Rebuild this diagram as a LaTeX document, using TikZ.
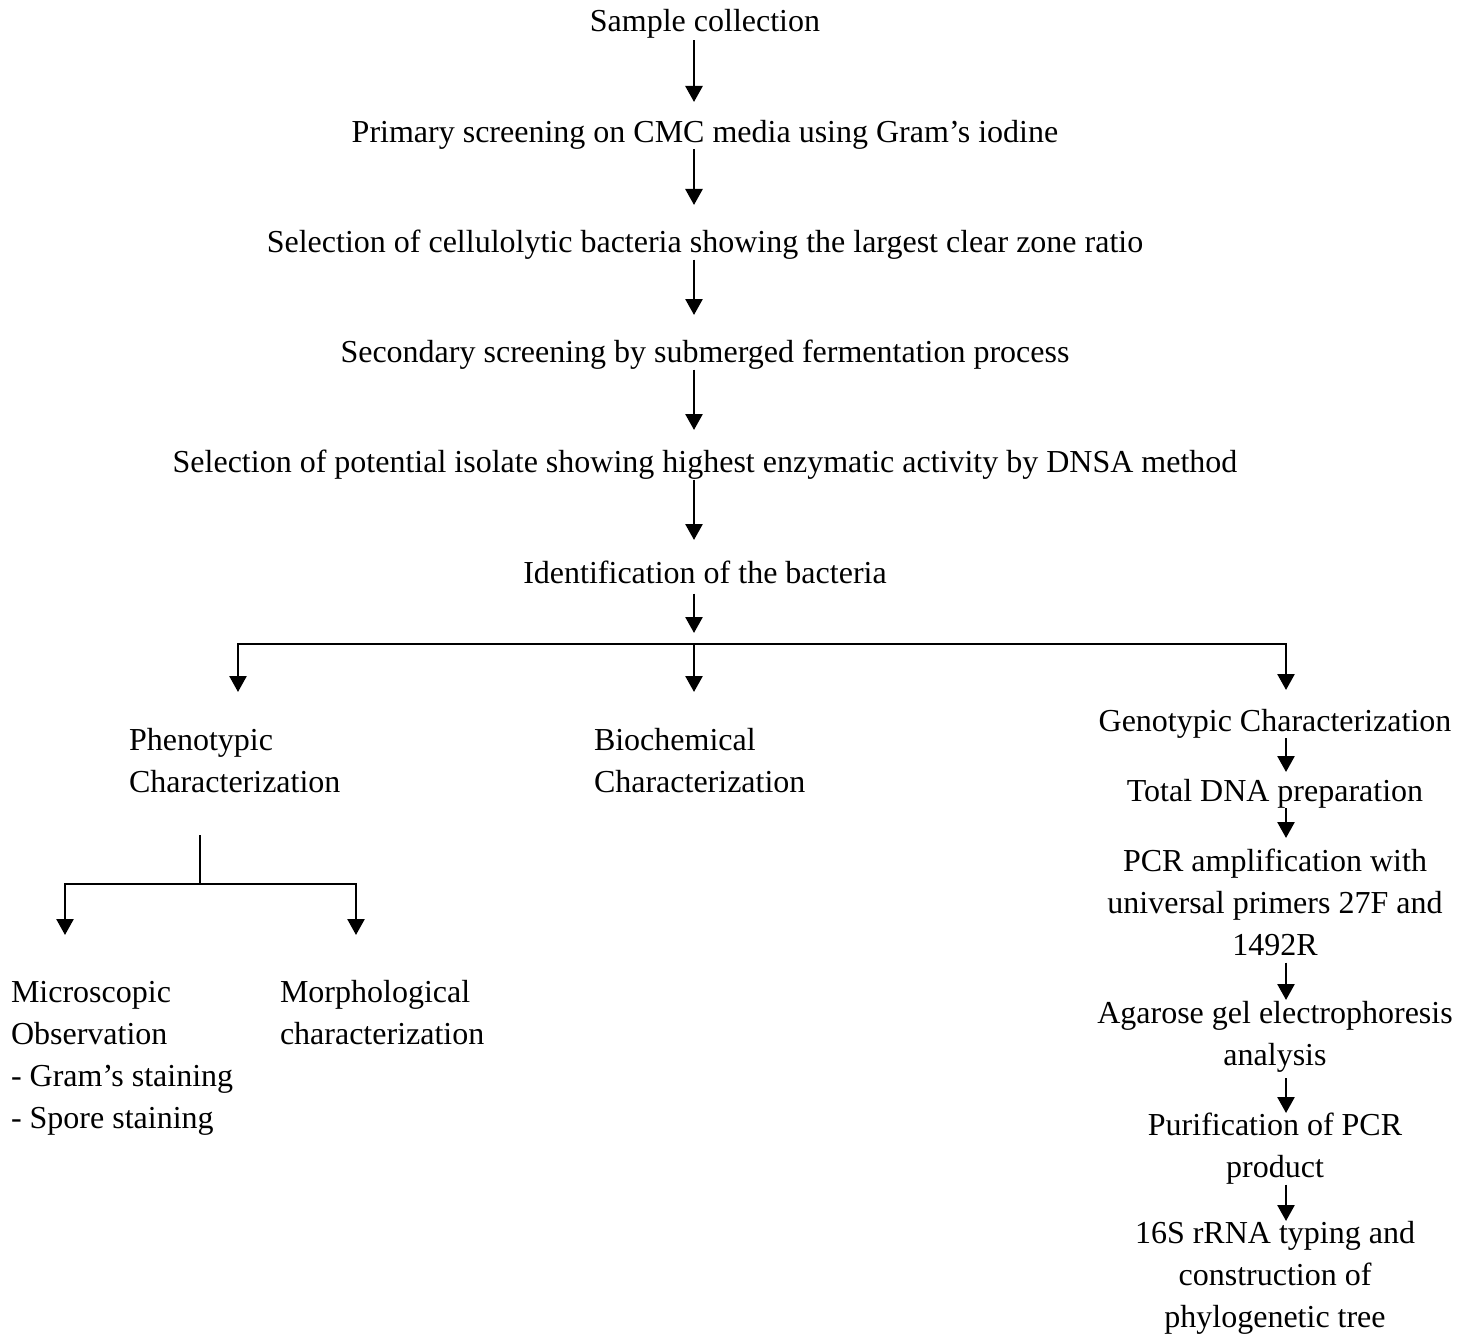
\documentclass[tikz,border=0pt]{standalone}
\usepackage{fontspec}
\setmainfont{Liberation Serif}
\usetikzlibrary{arrows.meta}
\newcommand\tst{\rule{0pt}{11pt}}
\newcommand\bst{\rule[-3.5pt]{0pt}{3.5pt}}
\begin{document}
\begin{tikzpicture}[x=0.5pt,y=-0.5pt,
  txt/.style={inner sep=0pt, outer sep=0pt, font=\fontsize{16pt}{21pt}\selectfont},
  ctr/.style={txt, anchor=north, align=center},
  lft/.style={txt, anchor=north west, align=left},
  ln/.style={line width=1.3pt},
  arr/.style={ln, -{Triangle[width=8.5pt,length=8pt]}}]
\useasboundingbox (0,0) rectangle (1471,1337);
% columns and junctions
\coordinate (c0) at (694,0);
\coordinate (br) at (694,644);
\coordinate (cA) at (238,0);
\coordinate (cC) at (1286,0);
\coordinate (sp) at (200,884);
\coordinate (cM1) at (65,0);
\coordinate (cM2) at (356,0);
% main chain
\node[ctr] (s1) at (705,9) {\tst Sample collection\bst};
\node[ctr] (s2) at (705,120) {\tst Primary screening on CMC media using Gram’s iodine\bst};
\node[ctr] (s3) at (705,230) {\tst Selection of cellulolytic bacteria showing the largest clear zone ratio\bst};
\node[ctr] (s4) at (705,340) {\tst Secondary screening by submerged fermentation process\bst};
\node[ctr] (s5) at (705,450) {\tst Selection of potential isolate showing highest enzymatic activity by DNSA method\bst};
\node[ctr] (s6) at (705,561) {\tst Identification of the bacteria\bst};
% branches
\node[lft] (ph) at (129,728) {\tst Phenotypic\\Characterization\bst};
\node[lft] (bc) at (594,728) {\tst Biochemical\\Characterization\bst};
\node[ctr] (g1) at (1275,709) {\tst Genotypic Characterization\bst};
\node[ctr] (g2) at (1275,779) {\tst Total DNA preparation\bst};
\node[ctr] (g3) at (1275,849) {\tst PCR amplification with\\universal primers 27F and\\1492R\bst};
\node[ctr] (g4) at (1275,1001) {\tst Agarose gel electrophoresis\\analysis\bst};
\node[ctr] (g5) at (1275,1113) {\tst Purification of PCR\\product\bst};
\node[ctr] (g6) at (1275,1221) {\tst 16S rRNA typing and\\construction of\\phylogenetic tree\bst};
\node[lft] (mi) at (11,980) {\tst Microscopic\\Observation\\- Gram’s staining\\- Spore staining\bst};
\node[lft] (mo) at (280,980) {\tst Morphological\\characterization\bst};
% connectors: main chain
\draw[arr, shorten <=1pt, shorten >=9pt] (s1.south -| c0) -- (s2.north -| c0);
\draw[arr, shorten >=12.5pt] (s2.south -| c0) -- (s3.north -| c0);
\draw[arr, shorten >=12.5pt] (s3.south -| c0) -- (s4.north -| c0);
\draw[arr, shorten >=10pt] (s4.south -| c0) -- (s5.north -| c0);
\draw[arr, shorten >=10.5pt] (s5.south -| c0) -- (s6.north -| c0);
\draw[arr, shorten <=1.5pt, shorten >=5.5pt] (s6.south -| br) -- (br);
% three-way split
\draw[arr, shorten >=18pt] (br) -- (br -| cA) -- (ph.north -| cA);
\draw[arr, shorten >=18pt] (br) -- (bc.north -| br);
\draw[arr, shorten >=9.5pt] (br) -- (br -| cC) -- (g1.north -| cC);
% phenotypic split
\draw[ln, shorten <=18pt] (ph.south -| sp) -- (sp);
\draw[arr, shorten >=22.5pt] (sp) -- (sp -| cM1) -- (mi.north -| cM1);
\draw[arr, shorten >=22.5pt] (sp) -- (sp -| cM2) -- (mo.north -| cM2);
% genotypic chain
\draw[arr, shorten >=3.5pt] (g1.south -| cC) -- (g2.north -| cC);
\draw[arr, shorten >=5.5pt] (g2.south -| cC) -- (g3.north -| cC);
\draw[arr, shorten >=0.5pt] (g3.south -| cC) -- (g4.north -| cC);
\draw[arr, shorten <=3pt] (g4.south -| cC) -- (g5.north -| cC);
\draw[arr] (g5.south -| cC) -- (g6.north -| cC);
\end{tikzpicture}
\end{document}
